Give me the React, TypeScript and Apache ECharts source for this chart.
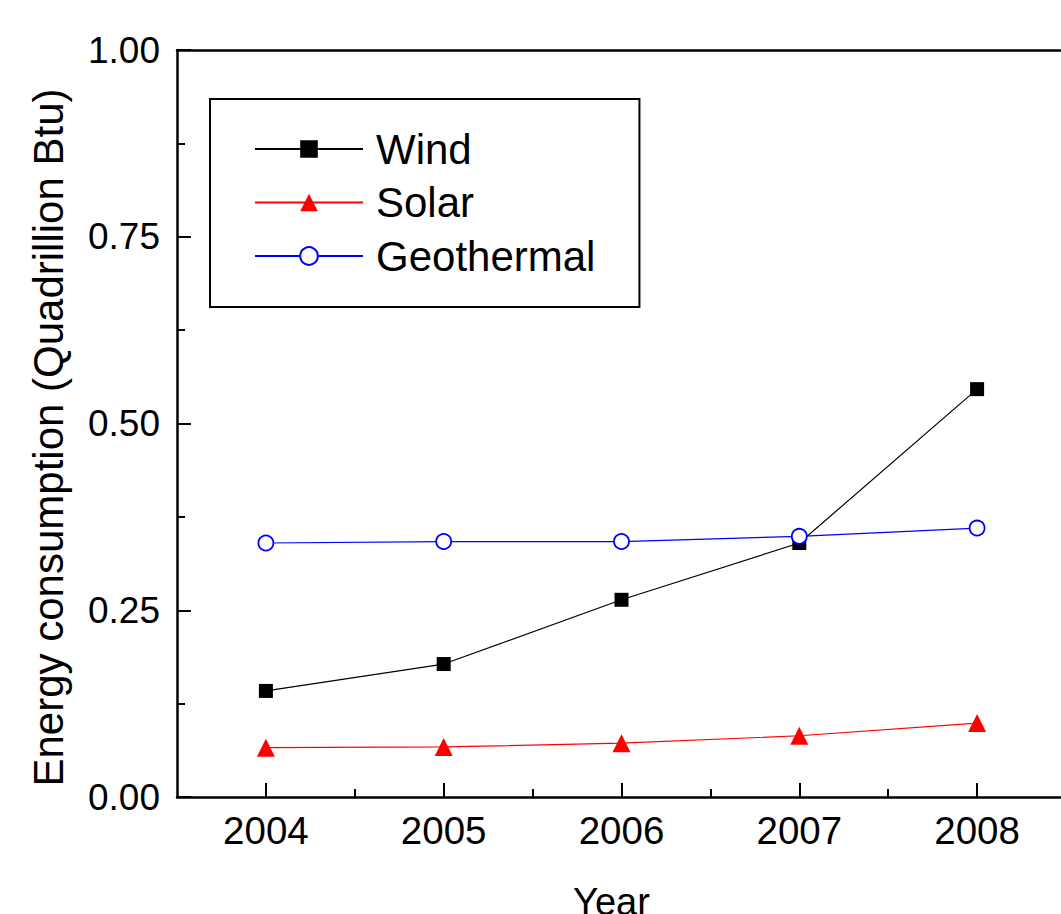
import React, { useEffect, useRef } from "react";
import * as echarts from "echarts";

const years = [2004, 2005, 2006, 2007, 2008];
const minorYears = [2004.5, 2005.5, 2006.5, 2007.5];
const wind = [0.142, 0.178, 0.264, 0.340, 0.546];
const solar = [0.066, 0.067, 0.072, 0.082, 0.099];
const geothermal = [0.340, 0.342, 0.342, 0.349, 0.360];
const seriesNames = ["Wind", "Solar", "Geothermal"];

const FONT = "Liberation Sans, Arial, sans-serif";

export default function App() {
  const ref = useRef<HTMLDivElement>(null);
  useEffect(() => {
    if (!ref.current) return;
    const chart = echarts.init(ref.current, undefined, { renderer: "svg" });
    const pair = (arr: number[]) => years.map((y, i) => [y, arr[i]]);
    chart.setOption({
      animation: false,
      backgroundColor: "#ffffff",
      grid: { left: 177, top: 50, right: -5, bottom: 117, containLabel: false, outerBoundsMode: "none" },
      xAxis: [
        {
          type: "value",
          min: 2003.5,
          max: 2008.5,
          name: "Year",
          nameLocation: "middle",
          nameGap: 86,
          nameTextStyle: { fontSize: 38, color: "#000", fontFamily: FONT, padding: [0, 20, 0, 0] },
          axisLine: { show: true, onZero: false, lineStyle: { color: "#000", width: 2.5 } },
          axisTick: { show: true, inside: true, length: 14, lineStyle: { color: "#000", width: 2 }, customValues: years },
          axisLabel: {
            show: true,
            customValues: years,
            fontSize: 38.5,
            color: "#000",
            fontFamily: FONT,
            margin: 14,
            formatter: (v: number) => String(v),
          },
          splitLine: { show: false },
        },
        {
          type: "value",
          min: 2003.5,
          max: 2008.5,
          position: "bottom",
          axisLine: { show: false },
          axisTick: { show: true, inside: true, length: 8, lineStyle: { color: "#000", width: 2 }, customValues: minorYears },
          axisLabel: { show: false },
          splitLine: { show: false },
        },
        {
          type: "value",
          min: 2003.5,
          max: 2008.5,
          position: "top",
          axisLine: { show: true, onZero: false, lineStyle: { color: "#000", width: 2.5 } },
          axisTick: { show: false },
          axisLabel: { show: false },
          splitLine: { show: false },
        },
      ],
      yAxis: [
        {
          type: "value",
          min: 0,
          max: 1,
          interval: 0.25,
          name: "Energy consumption (Quadrillion Btu)",
          nameLocation: "middle",
          nameRotate: 90,
          nameGap: 108,
          nameTextStyle: { fontSize: 42, color: "#000", fontFamily: FONT, padding: [0, 28, 0, 0] },
          axisLine: { show: true, onZero: false, lineStyle: { color: "#000", width: 2.5 } },
          axisTick: { show: true, inside: true, length: 14, lineStyle: { color: "#000", width: 2 } },
          minorTick: { show: true, splitNumber: 2, length: 8, lineStyle: { color: "#000", width: 2 } },
          axisLabel: {
            fontSize: 37,
            color: "#000",
            fontFamily: FONT,
            margin: 17,
            formatter: (v: number) => v.toFixed(2),
          },
          splitLine: { show: false },
          minorSplitLine: { show: false },
        },
      ],
      legend: {
        show: true,
        data: seriesNames,
        orient: "vertical",
        left: 210,
        top: 99,
        padding: [28, 44, 29, 44],
        borderColor: "#000",
        borderWidth: 2,
        itemWidth: 108,
        itemHeight: 22,
        itemGap: 9.5,
        textStyle: { fontSize: 42, color: "#000", fontFamily: FONT, lineHeight: 44, padding: [0, 0, 0, 8] },
      },
      series: [
        {
          name: seriesNames[0],
          type: "line",
          data: pair(wind),
          symbol: "rect",
          symbolSize: 14,
          itemStyle: { color: "#000" },
          lineStyle: { color: "#000", width: 1.2 },
        },
        {
          name: seriesNames[1],
          type: "line",
          data: pair(solar),
          symbol: "triangle",
          symbolSize: 18,
          itemStyle: { color: "#ff0000" },
          lineStyle: { color: "#ff0000", width: 1.2 },
        },
        {
          name: seriesNames[2],
          type: "line",
          data: pair(geothermal),
          symbol: "circle",
          symbolSize: 15,
          itemStyle: { color: "#ffffff", borderColor: "#0000ff", borderWidth: 1.8 },
          lineStyle: { color: "#0000ff", width: 1.2 },
        },
      ],
    });
    return () => chart.dispose();
  }, []);
  return (
    <div
      ref={ref}
      style={{ position: "absolute", left: 0, top: 0, width: 1061, height: 914, background: "#fff" }}
    />
  );
}
